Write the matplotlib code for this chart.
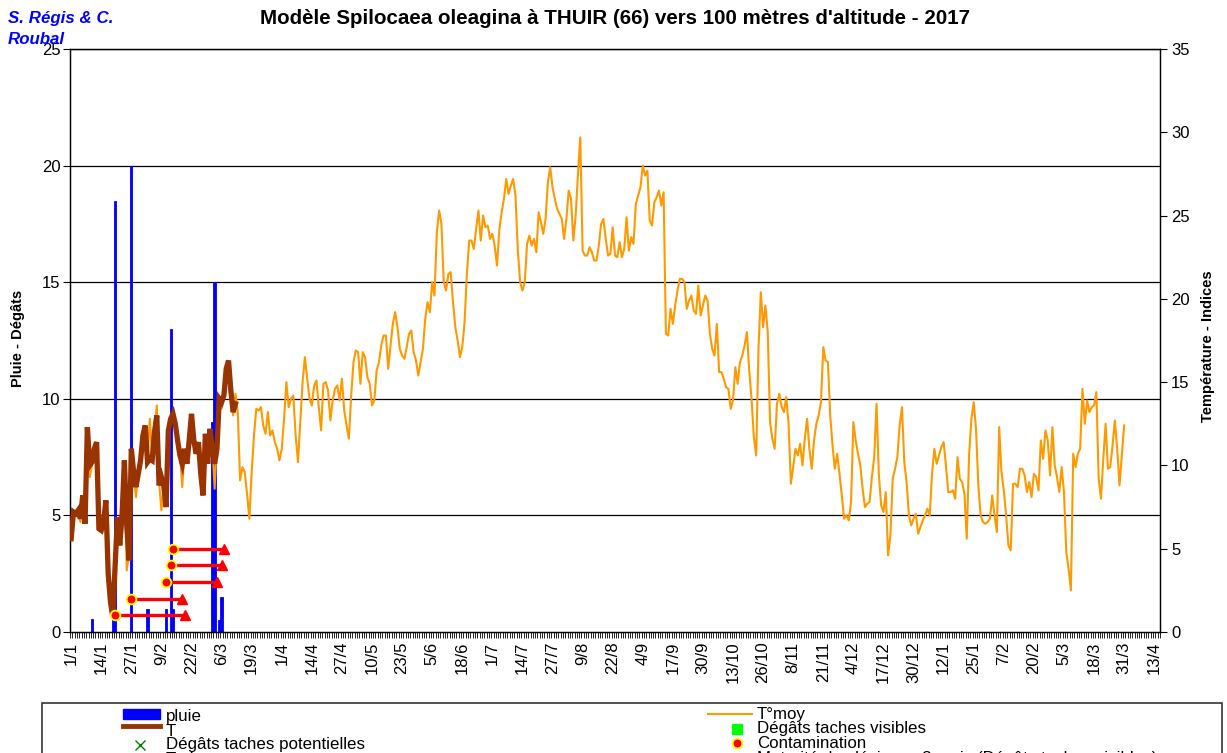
import numpy as np
import matplotlib
matplotlib.use("Agg")
import matplotlib.pyplot as plt
from matplotlib.patches import Rectangle
from matplotlib.lines import Line2D

plt.rcParams["font.family"] = ["Liberation Sans", "DejaVu Sans"]

# ── data (one value per category = one day, from 1/1) ─────────────
tick_labels = ["1/1", "14/1", "27/1", "9/2", "22/2", "6/3", "19/3", "1/4", "14/4",
               "27/4", "10/5", "23/5", "5/6", "18/6", "1/7", "14/7", "27/7", "9/8",
               "22/8", "4/9", "17/9", "30/9", "13/10", "26/10", "8/11", "21/11",
               "4/12", "17/12", "30/12", "12/1", "25/1", "7/2", "20/2", "5/3",
               "18/3", "31/3", "13/4"]

pluie_day = [9, 18, 19, 26, 33, 41, 43, 44, 61, 62, 64, 65]
pluie_mm = [0.55, 0.6, 18.5, 20.0, 1.0, 1.0, 13.0, 1.0, 9.0, 15.0, 0.5, 1.5]

t_station = [5.6, 7.2, 7.1, 7.3, 6.8, 8.2, 6.5, 12.3, 10.0, 10.2,
             11.0, 11.4, 6.2, 6.1, 6.6, 7.9, 3.5, 1.8, 0.9, 4.0,
             6.9, 5.2, 7.0, 10.3, 6.5, 4.3, 11.0, 9.6, 8.7, 9.5,
             10.3, 11.8, 12.4, 10.2, 10.4, 10.3, 12.0, 13.0, 8.8, 9.3,
             8.8, 7.5, 12.1, 12.8, 13.1, 12.5, 11.5, 10.6, 10.1, 11.0,
             10.1, 11.5, 13.1, 11.5, 10.7, 11.4, 9.5, 8.2, 11.9, 10.1,
             12.2, 11.0, 10.1, 11.0, 14.0, 13.8, 14.2, 15.8, 16.3, 14.5,
             13.2, 13.7]

t_moy = [5.6, 7.3, 7.0, 7.4, 6.6, 7.6, 6.8, 12.0, 9.3, 10.0,
         11.0, 11.3, 6.4, 6.1, 6.6, 7.8, 3.8, 1.8, 1.2, 4.2,
         6.8, 5.4, 7.2, 10.0, 3.7, 4.6, 10.8, 9.4, 8.1, 9.6,
         10.2, 11.8, 12.2, 10.4, 12.8, 10.5, 12.2, 13.6, 9.0, 7.3,
         8.9, 7.8, 12.0, 12.6, 13.0, 12.2, 11.0, 10.8, 8.7, 10.8,
         10.2, 11.4, 12.9, 11.3, 10.8, 11.2, 9.4, 8.4, 11.6, 10.3,
         11.9, 11.2, 8.6, 11.5, 13.6, 13.4, 14.0, 15.4, 16.0, 14.2,
         13.0, 14.3,
         13.2, 9.1, 9.9, 9.6, 8.3, 6.8, 9.6, 11.8,
         13.4, 13.3, 13.5, 12.4, 11.9, 13.2, 11.8, 12.1, 11.4, 11.0,
         10.3, 11.0, 12.8, 15.0, 13.5, 14.0, 14.2, 11.8, 10.2, 12.6,
         15.0, 16.5, 15.2, 14.0, 13.6, 14.8, 15.1, 13.5, 12.1, 14.9,
         15.0, 14.5, 12.7, 13.9, 14.6, 14.8, 13.9, 15.2, 13.3, 12.4,
         11.6, 14.2, 16.2, 16.9, 16.8, 14.9, 16.8, 16.5, 15.3, 14.9,
         13.6, 13.9, 15.7, 16.2, 17.2, 17.8, 17.8, 15.8, 17.2, 18.5,
         19.2, 18.3, 17.0, 16.6, 16.4, 17.1, 17.9, 18.1, 16.8, 16.3,
         15.4, 16.2, 17.0, 18.8, 19.8, 19.2, 21.0, 20.2, 24.0, 25.3,
         24.5, 21.0, 20.5, 21.5, 21.6, 19.8, 18.3, 17.5, 16.5, 17.1, 18.6,
         21.5, 23.5, 23.5, 23.0, 24.2, 25.3, 23.5, 25.0, 24.3, 24.4,
         23.6, 23.9, 23.2, 22.0, 24.1, 25.2, 26.0, 27.2, 26.3, 26.8,
         27.2, 26.2, 22.9, 21.0, 20.5, 21.0, 23.3, 23.8, 23.2, 23.6,
         22.8, 25.2, 24.6, 23.9, 24.8, 27.0, 27.9, 26.7, 26.0, 25.4,
         25.1, 24.8, 23.6, 24.8, 26.5, 26.0, 23.5, 25.0, 27.5, 29.7,
         22.9, 22.6, 22.6, 23.1, 22.8, 22.3, 22.3, 23.2, 24.5, 24.8,
         23.6, 22.6, 22.7, 24.3, 22.6, 22.5, 23.4, 22.5, 23.0, 24.9,
         22.9, 23.7, 23.3, 25.7, 26.2, 26.7, 28.0, 27.4, 27.7, 24.7,
         24.4, 25.8, 26.1, 26.5, 25.6, 26.4, 17.9, 17.8, 19.4, 18.5,
         19.6, 20.5, 21.2, 21.2, 21.0, 19.4, 19.9, 20.2, 19.3, 19.1, 20.8,
         19.0, 19.6, 20.2, 19.9, 17.9, 17.0, 16.6, 18.5, 15.6, 15.6,
         15.2, 14.7, 14.6, 13.4, 13.9, 15.9, 14.9, 16.2, 16.6, 17.2,
         18.0, 15.7, 14.0, 11.7, 10.6, 17.0, 20.4, 18.3, 19.6, 18.0,
         12.6, 11.6, 11.0, 13.7, 14.3, 13.5, 13.2, 14.1, 12.5, 8.9,
         9.9, 11.0, 10.6, 11.3, 10.0, 11.6, 12.8, 11.0, 9.8, 11.5,
         12.5, 13.0, 13.8, 17.1, 16.3, 16.2, 13.0, 11.2, 9.8, 10.7,
         9.5, 8.2, 6.8, 7.0, 6.7, 7.8, 12.6, 11.5, 10.7, 10.0,
         8.6, 7.5, 7.7, 7.8, 9.3, 10.5, 13.7, 9.5, 7.6, 7.2,
         8.4, 4.6, 5.8, 9.2, 9.8, 10.5, 12.4, 13.5, 10.2, 9.0,
         7.0, 6.4, 6.8, 7.1, 5.9, 6.3, 6.7, 7.0, 7.4, 7.0, 9.5,
         11.0, 10.1, 10.6, 11.1, 11.4, 10.0, 8.4, 8.4, 8.5, 8.0,
         10.5, 9.2, 9.0, 8.3, 5.6, 10.6, 12.8, 13.8, 12.2, 8.8,
         7.0, 6.6, 6.5, 6.6, 6.8, 8.2, 7.0, 6.0, 12.3, 9.6,
         8.5, 7.0, 5.2, 4.9, 8.9, 8.9, 8.7, 9.8, 9.8, 9.4,
         8.4, 9.0, 8.1, 9.5, 9.3, 8.5, 11.5, 10.4, 12.1, 11.5,
         9.4, 12.3, 10.0, 9.3, 8.4, 9.9, 8.4, 4.8, 3.8, 2.5,
         10.7, 9.9, 10.7, 11.0, 14.6, 12.5, 13.9, 13.2, 13.5, 13.6,
         14.4, 9.2, 8.0, 10.4, 12.5, 9.8, 9.9, 11.2, 12.7, 11.0,
         8.8, 10.6, 12.4]

contam_day = [19, 26, 41, 43, 44]
contam_idx = [1, 2, 3, 4, 5]
maturite_day = [49, 48, 63, 65, 66]

# ── colours ──────────────────────────────────────────────────────
BLUE = "#0000FF"
BROWN = "#993300"
ORANGE = "#FF9900"
RED = "#FF0000"
YELLOW = "#FFFF00"

W, H = 1227, 753
fig = plt.figure(figsize=(W / 100, H / 100), dpi=100, facecolor="white")


def fx(px):
    return px / W


def fy(py):
    return 1 - py / H


ax = fig.add_axes([fx(70), fy(632), fx(1160) - fx(70), fy(49) - fy(632)])
ax2 = ax.twinx()

n_cat = 471
ax.set_xlim(-0.5, n_cat - 0.5)
ax.set_ylim(0, 25)
ax2.set_ylim(0, 35)

# rain bars (left axis)
ax.bar(pluie_day, pluie_mm, width=1.0, color=BLUE, edgecolor=BLUE, linewidth=0.6, zorder=3)

# horizontal grid
for v in [5, 10, 15, 20, 25]:
    ax.axhline(v, color="black", linewidth=0.9, zorder=1)

# temperature lines (right axis)
ax2.plot(np.arange(len(t_moy)), t_moy, color=ORANGE, linewidth=1.5, zorder=2)
ax2.plot(np.arange(len(t_station)), t_station, color=BROWN, linewidth=3.8, zorder=3,
         solid_joinstyle="miter")

# contamination -> maturité
for d0, d1, v in zip(contam_day, maturite_day, contam_idx):
    ax2.plot([d0, d1], [v, v], color=RED, linewidth=2.4, zorder=4)
ax2.plot(maturite_day, contam_idx, "^", color=RED, markersize=7.5, zorder=5)
ax2.plot(contam_day, contam_idx, "o", color=RED, markeredgecolor=YELLOW,
         markeredgewidth=1.3, markersize=7, zorder=6)

# axes styling
TICK_FS = 12
ax.set_xticks(np.arange(0, 13 * len(tick_labels), 13))
ax.set_xticklabels(tick_labels, rotation=90, fontsize=TICK_FS)
ax.set_xticks(np.arange(-0.5, n_cat, 1), minor=True)
ax.tick_params(axis="x", which="major", length=0, pad=7)
ax.tick_params(axis="x", which="minor", length=4, width=0.6, direction="out")
ax.set_yticks([0, 5, 10, 15, 20, 25])
ax.tick_params(axis="y", length=5, width=0.8, labelsize=TICK_FS, pad=2)
ax2.set_yticks([0, 5, 10, 15, 20, 25, 30, 35])
ax2.tick_params(axis="y", length=5, width=0.8, labelsize=TICK_FS, pad=3)
for a in (ax, ax2):
    for s in a.spines.values():
        s.set_linewidth(0.9)
        s.set_color("black")

# texts
fig.text(0.501, fy(18), "Modèle Spilocaea oleagina à THUIR (66) vers 100 mètres d'altitude - 2017",
         ha="center", va="center", fontsize=14.8, fontweight="bold")
fig.text(fx(8), fy(18), "S. Régis & C.", ha="left", va="center", fontsize=12.2,
         fontweight="bold", style="italic", color=BLUE)
fig.text(fx(8), fy(40), "Roubal", ha="left", va="center", fontsize=12.2,
         fontweight="bold", style="italic", color=BLUE)
fig.text(fx(18), fy(338), "Pluie - Dégâts", rotation=90, ha="center", va="center",
         fontsize=10.5, fontweight="bold")
fig.text(fx(1208), fy(346), "Température - Indices", rotation=90, ha="center", va="center",
         fontsize=10.5, fontweight="bold")

# legend box (cut by the bottom of the picture)
fig.patches.append(Rectangle((fx(42), fy(770)), fx(1222) - fx(42), fy(703) - fy(770),
                             transform=fig.transFigure, fill=False, edgecolor="#333333",
                             linewidth=1.2))
fig.patches.append(Rectangle((fx(123), fy(719)), fx(160) - fx(123), fy(709) - fy(719),
                             transform=fig.transFigure, facecolor=BLUE, edgecolor=BLUE))
fig.lines.append(Line2D([fx(123), fx(160)], [fy(726), fy(726)], transform=fig.transFigure,
                        color=BROWN, linewidth=3.5))
fig.lines.append(Line2D([fx(140)], [fy(745)], transform=fig.transFigure, marker="x",
                        color="#008000", markersize=6.5, linestyle="none"))
fig.lines.append(Line2D([fx(708), fx(752)], [fy(714), fy(714)], transform=fig.transFigure,
                        color=ORANGE, linewidth=1.5))
fig.lines.append(Line2D([fx(737)], [fy(729)], transform=fig.transFigure, marker="s",
                        color="#00FF00", markersize=6.5, linestyle="none"))
fig.lines.append(Line2D([fx(737)], [fy(743)], transform=fig.transFigure, marker="o",
                        color=RED, markeredgecolor=YELLOW, markeredgewidth=1.3,
                        markersize=7, linestyle="none"))

leg_fs = 12.2
fig.text(fx(166), fy(716), "pluie", ha="left", va="center", fontsize=leg_fs)
fig.text(fx(166), fy(731), "T", ha="left", va="center", fontsize=leg_fs)
fig.text(fx(166), fy(745), "Dégâts taches potentielles", ha="left", va="center", fontsize=leg_fs)
fig.text(fx(166), fy(760), "Traitements", ha="left", va="center", fontsize=leg_fs)
fig.text(fx(757), fy(715), "T°moy", ha="left", va="center", fontsize=leg_fs)
fig.text(fx(757), fy(729), "Dégâts taches visibles", ha="left", va="center", fontsize=leg_fs)
fig.text(fx(757), fy(744), "Contamination", ha="left", va="center", fontsize=leg_fs)
fig.text(fx(757), fy(759), "Maturité des lésions : 3 mois (Dégâts taches visibles)",
         ha="left", va="center", fontsize=leg_fs)

fig.savefig("out.png", dpi=100, facecolor="white")
